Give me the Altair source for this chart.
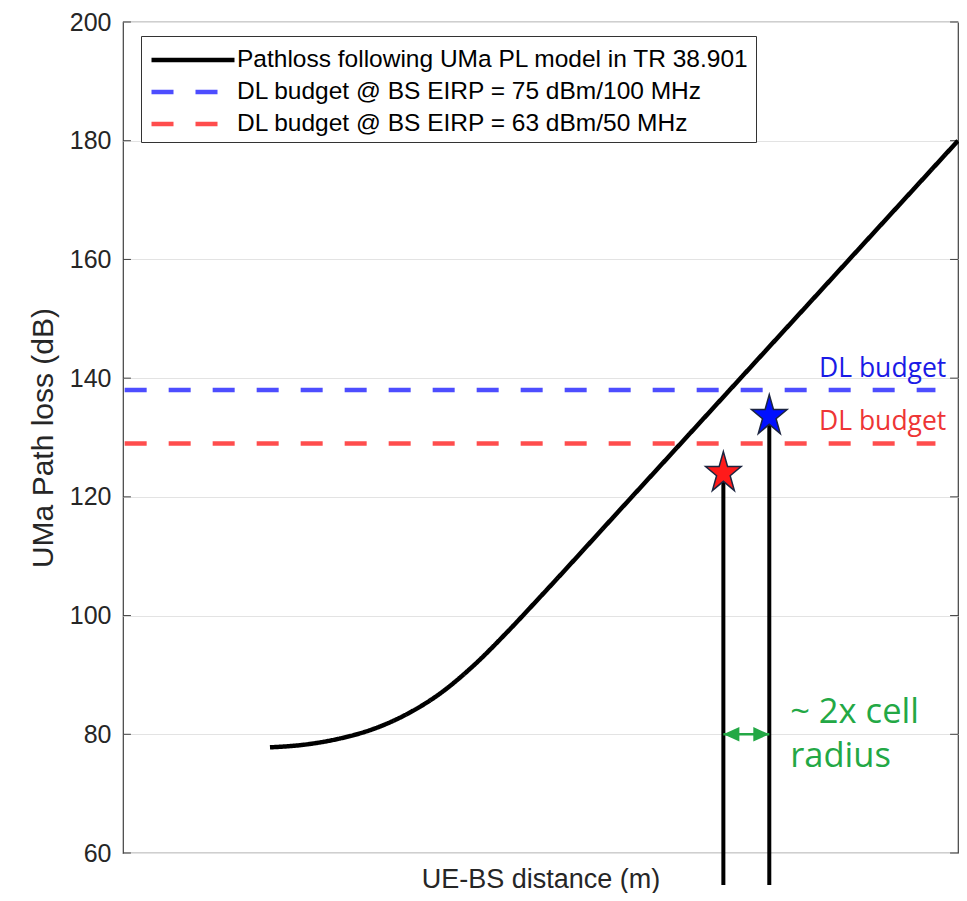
import altair as alt
import pandas as pd

# ---------------- data ----------------
series_names = [
    "Pathloss following UMa PL model in TR 38.901",
    "DL budget @ BS EIRP = 75 dBm/100 MHz",
    "DL budget @ BS EIRP = 63 dBm/50 MHz",
]
series_colors = ["#000000", "#4d4dff", "#ff4d4d"]

# path-loss curve (x: relative distance units 0-100, y: dB)
curve_x = [17.6, 22, 26, 30, 34, 38, 42, 46, 50, 60, 75, 100]
curve_y = [77.8, 78.3, 79.3, 80.9, 83.4, 86.9, 91.6, 97.2, 103.2, 118.55, 141.6, 180.0]

# DL budget levels
budget_levels = [138, 129]
budget_x = [0.2, 97.3]
budget_text_colors = ["#1a1ae6", "#ee3535"]
budget_text_y = [141.6, 132.6]

# stars (cell edge for each budget)
star_x = [77.4, 71.9]
star_y = [133.6, 124.0]
star_fill = ["#0010ff", "#ff1a1a"]
drop_bottom = 54.6

y_ticks = [60, 80, 100, 120, 140, 160, 180, 200]

arrow_y = 80
note_lines = ["~ 2x cell", "radius"]
note_y = [83.6, 76.1]
note_x = 79.9
green = "#23a845"

# ---------------- frames ----------------
rows = []
for x, y in zip(curve_x, curve_y):
    rows.append({"x": x, "y": y, "series": series_names[0]})
for name, lvl in zip(series_names[1:], budget_levels):
    for x in budget_x:
        rows.append({"x": x, "y": lvl, "series": name})
lines_df = pd.DataFrame(rows)

ticks_df = pd.DataFrame({"y": y_ticks})
drops_df = pd.DataFrame({"x": star_x, "y": star_y, "y2": [drop_bottom] * 2})
stars_df = pd.DataFrame({"x": star_x, "y": star_y, "fill": star_fill})
budget_txt_df = pd.DataFrame({"x": [98.6, 98.6], "y": budget_text_y,
                              "t": ["DL budget", "DL budget"], "c": budget_text_colors})
arrow_df = pd.DataFrame({"x": [min(star_x)], "x2": [max(star_x)], "y": [arrow_y]})
heads_df = pd.DataFrame({"x": [min(star_x), max(star_x)], "y": [arrow_y, arrow_y],
                         "side": ["L", "R"]})
note_df = pd.DataFrame({"x": [note_x, note_x], "y": note_y, "t": note_lines})

xs = alt.Scale(domain=[0, 100], nice=False, zero=False)
ys = alt.Scale(domain=[60, 200], nice=False, zero=False)

X = alt.X("x:Q", scale=xs, axis=alt.Axis(title="UE-BS distance (m)", labels=False, ticks=False,
                                         domain=False, grid=False, titleFontSize=27,
                                         titleFont="Liberation Sans", titleFontWeight="normal",
                                         titleColor="#262626", titlePadding=13))
Y = alt.Y("y:Q", scale=ys, axis=alt.Axis(title="UMa Path loss (dB)", values=y_ticks, ticks=False,
                                         domain=False, grid=True, gridColor="#e3e3e3",
                                         labelFontSize=25, labelFont="Liberation Sans",
                                         labelColor="#262626", labelPadding=12,
                                         titleFontSize=30, titleFont="Liberation Sans",
                                         titleFontWeight="normal", titleColor="#262626",
                                         titlePadding=11))

legend = alt.Legend(title=None, orient="none", legendX=18, legendY=14,
                    symbolType="M-2.677,0L2.677,0", symbolSize=961, symbolStrokeWidth=4.5,
                    symbolOffset=28, labelOffset=26, labelFontSize=24.5,
                    labelFont="Liberation Sans", labelColor="#000000", labelLimit=2000,
                    strokeColor="#333333", fillColor="#ffffff", padding=6, rowPadding=2)

left_ticks = alt.Chart(ticks_df).mark_rule(color="#404040", strokeWidth=1).encode(
    y=Y, x=alt.datum(0, scale=xs), x2=alt.datum(0.95))
right_ticks = alt.Chart(ticks_df).mark_rule(color="#404040", strokeWidth=1).encode(
    y=Y, x=alt.datum(99.05, scale=xs), x2=alt.datum(100))

lines = alt.Chart(lines_df).mark_line(strokeWidth=4.5, interpolate="monotone").encode(
    x=X, y=Y,
    color=alt.Color("series:N", scale=alt.Scale(domain=series_names, range=series_colors),
                    legend=legend),
    strokeDash=alt.StrokeDash("series:N", scale=alt.Scale(domain=series_names,
                              range=[[1, 0], [22, 22], [22, 22]]), legend=legend),
)

drops = alt.Chart(drops_df).mark_rule(color="black", strokeWidth=4).encode(
    x="x:Q", y="y:Q", y2="y2:Q")

star_path = ("M0,-1.15L0.2245,-0.355L0.9511,-0.355L0.3633,0.136L0.5878,0.93L0,0.439"
             "L-0.5878,0.93L-0.3633,0.136L-0.9511,-0.355L-0.2245,-0.355Z")
stars = alt.Chart(stars_df).mark_point(shape=star_path, size=1400, filled=True,
                                        stroke="#1c2540", strokeWidth=1.5, opacity=1).encode(
    x="x:Q", y="y:Q", fill=alt.Fill("fill:N", scale=None))

budget_txt = alt.Chart(budget_txt_df).mark_text(align="right", baseline="middle", fontSize=26.5,
                                                font="Open Sans").encode(
    x="x:Q", y="y:Q", text="t:N", color=alt.Color("c:N", scale=None))

arrow = alt.Chart(arrow_df).mark_rule(color=green, strokeWidth=2.5).encode(
    x="x:Q", x2="x2:Q", y="y:Q")
head_l = alt.Chart(heads_df[heads_df.side == "L"]).mark_point(
    shape="M0,0L2,-0.9L2,0.9Z", size=256, filled=True, color=green, opacity=1).encode(
    x="x:Q", y="y:Q")
head_r = alt.Chart(heads_df[heads_df.side == "R"]).mark_point(
    shape="M0,0L-2,-0.9L-2,0.9Z", size=256, filled=True, color=green, opacity=1).encode(
    x="x:Q", y="y:Q")

notes = alt.Chart(note_df).mark_text(align="left", baseline="middle", fontSize=34.5,
                                      font="Open Sans", color=green).encode(
    x="x:Q", y="y:Q", text="t:N")

chart = alt.layer(left_ticks, right_ticks, lines, drops, stars, budget_txt, arrow,
                  head_l, head_r, notes).properties(
    width=835, height=831, autosize="none",
    padding={"left": 115, "top": 14, "right": 1, "bottom": 40},
    background="white",
).configure_view(stroke="#404040", strokeWidth=1.2)

chart.save("out.html", embed_options={"renderer": "svg", "actions": False})
